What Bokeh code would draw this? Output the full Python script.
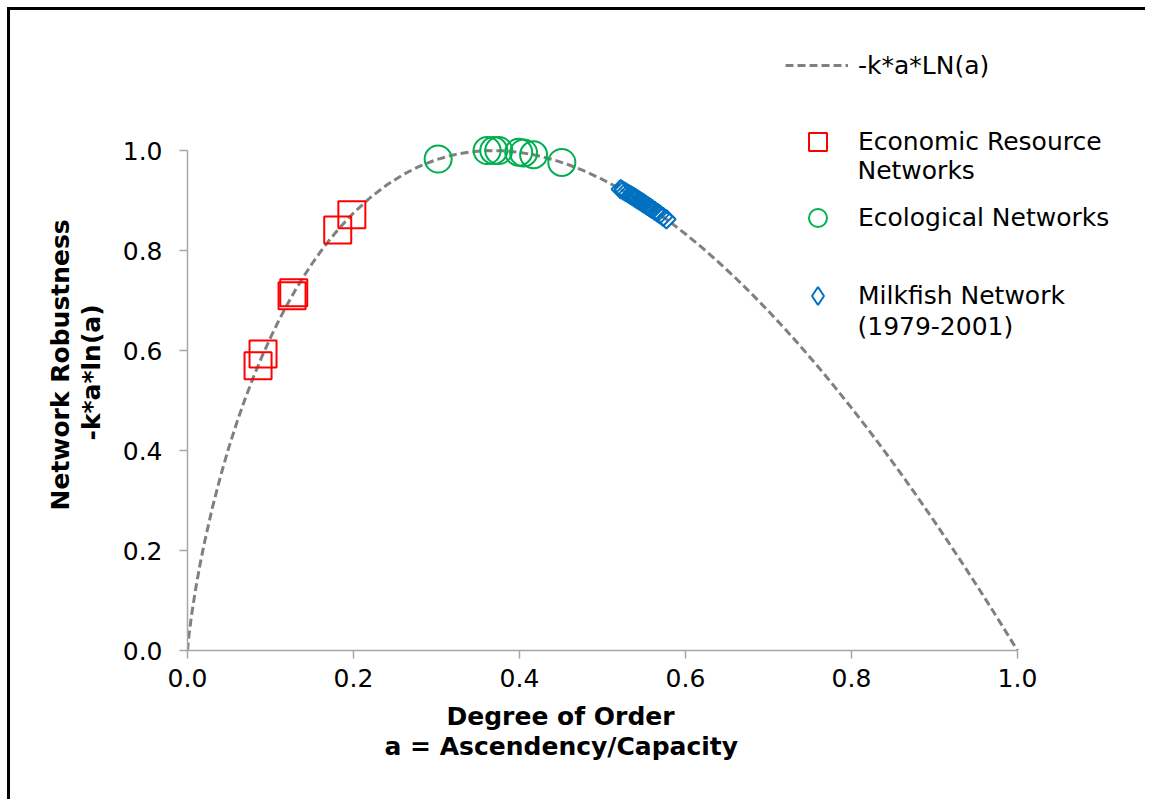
import math
from bokeh.plotting import figure
from bokeh.models import (Range1d, Legend, LegendItem, Label, FixedTicker,
                          NumeralTickFormatter, Title, CDSView, IndexFilter)
from bokeh.embed import file_html
from bokeh.resources import INLINE

# ---- data ----
curve_a = [0.0, 0.001, 0.002, 0.005, 0.01, 0.015, 0.02, 0.03, 0.04, 0.05, 0.06, 0.07, 0.08, 0.09,
           0.10, 0.11, 0.12, 0.13, 0.14, 0.15, 0.16, 0.17, 0.18, 0.19, 0.20, 0.22, 0.24, 0.26,
           0.28, 0.30, 0.32, 0.34, 0.36, 0.38, 0.40, 0.42, 0.44, 0.46, 0.48, 0.50, 0.52, 0.54,
           0.56, 0.58, 0.60, 0.62, 0.64, 0.66, 0.68, 0.70, 0.72, 0.74, 0.76, 0.78, 0.80, 0.82,
           0.84, 0.86, 0.88, 0.90, 0.92, 0.94, 0.96, 0.98, 1.00]
curve_r = [0.0, 0.0188, 0.0338, 0.0720, 0.1252, 0.1712, 0.2127, 0.2859, 0.3500, 0.4072, 0.4588,
           0.5060, 0.5492, 0.5891, 0.6259, 0.6600, 0.6916, 0.7210, 0.7482, 0.7735, 0.7970,
           0.8189, 0.8390, 0.8577, 0.8750, 0.9055, 0.9310, 0.9521, 0.9689, 0.9818, 0.9911,
           0.9971, 0.9998, 0.9995, 0.9963, 0.9904, 0.9820, 0.9710, 0.9577, 0.9421, 0.9243,
           0.9045, 0.8826, 0.8588, 0.8331, 0.8057, 0.7764, 0.7455, 0.7129, 0.6787, 0.6429,
           0.6057, 0.5670, 0.5268, 0.4852, 0.4424, 0.3981, 0.3526, 0.3058, 0.2578, 0.2085,
           0.1581, 0.1065, 0.0538, 0.0]

econ_a = [0.085, 0.091, 0.126, 0.128, 0.181, 0.198]
econ_r = [0.5696, 0.5929, 0.7095, 0.7153, 0.8410, 0.8717]

eco_a = [0.302, 0.361, 0.369, 0.375, 0.399, 0.405, 0.417, 0.451]
eco_r = [0.9829, 0.9998, 1.0000, 0.9998, 0.9965, 0.9951, 0.9915, 0.9762]

milk_a = [0.522, 0.525, 0.528, 0.531, 0.534, 0.536, 0.538, 0.540, 0.542, 0.544, 0.546, 0.548,
          0.550, 0.552, 0.554, 0.556, 0.558, 0.560, 0.563, 0.566, 0.569, 0.573, 0.577]
milk_r = [0.9225, 0.9197, 0.9167, 0.9137, 0.9107, 0.9086, 0.9066, 0.9045, 0.9024, 0.9002,
          0.8981, 0.8960, 0.8938, 0.8916, 0.8894, 0.8872, 0.8849, 0.8826, 0.8792, 0.8757,
          0.8722, 0.8674, 0.8625]

x_ticks = [0.0, 0.2, 0.4, 0.6, 0.8, 1.0]
y_ticks = [0.0, 0.2, 0.4, 0.6, 0.8, 1.0]

curve_label = "-k*a*LN(a)"
econ_label = ["Economic Resource", "Networks"]
eco_label = "Ecological Networks"
milk_label = ["Milkfish Network", "(1979-2001)"]
x_title = ["Degree of Order", "a = Ascendency/Capacity"]
y_title = ["Network Robustness", "-k*a*ln(a)"]

FONT = "DejaVu Sans"
AXIS_GRAY = "#a6a6a6"
RED, GREEN, BLUE = "#FF0000", "#00B050", "#0070C0"

W, H = 1138, 792
p = figure(width=W, height=H, output_backend="svg", toolbar_location=None,
           x_range=Range1d(0, 1.14458), y_range=Range1d(0, 1.24),
           min_border_left=177, min_border_right=W - 1127, min_border_top=20,
           min_border_bottom=H - 640,
           background_fill_color="white", border_fill_color="white")
p.styles = {"margin-left": "7px", "margin-top": "7px",
            "border-top": "3px solid black", "border-left": "3px solid black"}
p.xgrid.visible = False
p.ygrid.visible = False
p.outline_line_color = None

for ax, ticks in ((p.xaxis[0], x_ticks), (p.yaxis[0], y_ticks)):
    ax.ticker = FixedTicker(ticks=ticks)
    ax.formatter = NumeralTickFormatter(format="0.0")
    ax.bounds = (0, 1)
    ax.axis_line_color = AXIS_GRAY
    ax.axis_line_width = 1.5
    ax.major_tick_line_color = AXIS_GRAY
    ax.major_tick_line_width = 1.5
    ax.major_tick_out = 8
    ax.major_tick_in = 0
    ax.minor_tick_line_color = None
    ax.major_label_text_font = FONT
    ax.major_label_text_font_size = "25px"
    ax.major_label_text_color = "black"
p.xaxis[0].major_label_standoff = 10
p.yaxis[0].major_label_standoff = 17

line_r = p.line(curve_a, curve_r, line_color="#808080", line_width=3, line_dash="8 4")
econ_sc = p.scatter(econ_a, econ_r, marker="square", size=27, fill_color=None,
                    line_color=RED, line_width=2)
eco_sc = p.scatter(eco_a, eco_r, marker="circle", size=27, fill_color=None,
                   line_color=GREEN, line_width=2)
milk_sc = p.scatter(milk_a, milk_r, marker="square", angle=math.pi / 4, size=13,
                    fill_color=None, line_color=BLUE, line_width=2)
# legend key for the milkfish series (legend swatches are never rotated, so a
# diamond marker is used); it shows only the first year's point, inside the band
milk_key = p.scatter(milk_a, milk_r, marker="diamond", size=18, fill_color=None,
                     line_color=BLUE, line_width=2,
                     view=CDSView(filter=IndexFilter(indices=[0])))


def make_legend(label, rend, loc, gw, gh, standoff):
    lg = Legend(items=[LegendItem(label=label, renderers=[rend])], location=loc,
                glyph_width=gw, glyph_height=gh, label_standoff=standoff,
                padding=0, margin=0, spacing=0, border_line_alpha=0,
                background_fill_alpha=0, label_text_font=FONT,
                label_text_font_size="25px", label_text_color="black",
                label_height=30)
    p.add_layout(lg, "center")


make_legend(curve_label, line_r, (598, 570), 63, 30, 10)
make_legend(econ_label[0], econ_sc, (608, 486), 45, 45, 18)
make_legend(eco_label, eco_sc, (608, 410), 45, 45, 18)
make_legend(milk_label[0], milk_key, (608, 332), 45, 45, 18)

second = dict(text_font=FONT, text_font_size="25px", text_color="black",
              text_align="left", text_baseline="middle")
p.add_layout(Label(x=0.8072, y=0.96, text=econ_label[1], **second))
p.add_layout(Label(x=0.8072, y=0.648, text=milk_label[1], **second))

tstyle = dict(text_font=FONT, text_font_size="25px", text_font_style="bold",
              text_color="black", align="left")
p.add_layout(Title(text=x_title[0], offset=259, standoff=21, **tstyle), "below")
p.add_layout(Title(text=x_title[1], offset=197, standoff=-23, **tstyle), "below")
p.add_layout(Title(text=y_title[1], offset=210, standoff=27, **tstyle), "left")
p.add_layout(Title(text=y_title[0], offset=140, standoff=-27, **tstyle), "left")

open("out.html", "w").write(file_html(p, INLINE))
